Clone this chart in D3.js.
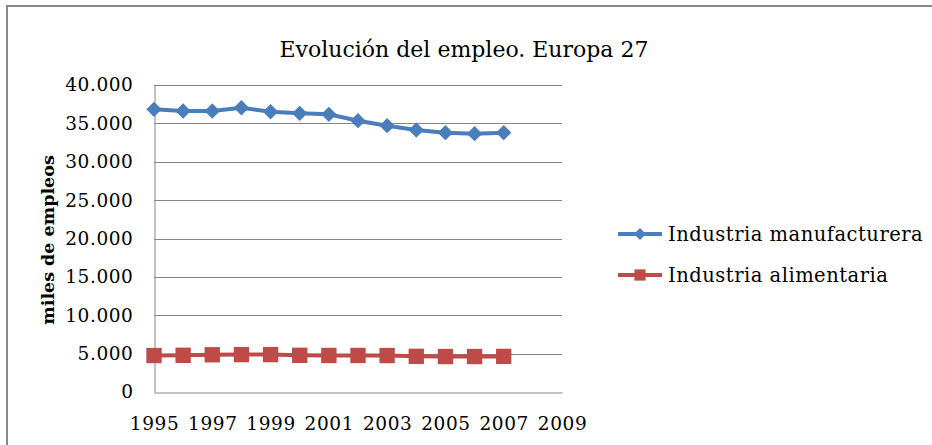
<!DOCTYPE html>
<html>
<head>
<meta charset="utf-8">
<script src="https://cdn.jsdelivr.net/npm/d3@7"></script>
<style>
  body { margin: 0; background: #fff; }
  svg { display: block; font-family: "DejaVu Serif", serif; }
  .grid line { stroke: #868686; stroke-width: 1; }
  .axis path, .axis line { stroke: #868686; }
</style>
</head>
<body>
<svg width="932" height="445"></svg>
<script>
// data (miles de empleos)
var years = [1995, 1996, 1997, 1998, 1999, 2000, 2001, 2002, 2003, 2004, 2005, 2006, 2007];
var manufacturera = [36830, 36610, 36610, 37040, 36520, 36310, 36180, 35350, 34700, 34140, 33790, 33660, 33790];
var alimentaria = [4750, 4780, 4850, 4870, 4870, 4780, 4760, 4760, 4750, 4650, 4620, 4620, 4640];
var yTicks = [0, 5000, 10000, 15000, 20000, 25000, 30000, 35000, 40000];
var xTicks = [1995, 1997, 1999, 2001, 2003, 2005, 2007, 2009];

var series = [
  { name: "Industria manufacturera", values: manufacturera, color: "#4A7EBB", shape: "diamond" },
  { name: "Industria alimentaria", values: alimentaria, color: "#BE4B48", shape: "square" }
];

var svg = d3.select("svg");

// chart frame: only top and left edges are inside the crop
svg.append("path")
  .attr("d", "M7,445V6H932")
  .attr("fill", "none")
  .attr("stroke", "#888")
  .attr("stroke-width", 2);

var x = d3.scaleLinear().domain([1995, 2009]).range([154, 562]);
var y = d3.scaleLinear().domain([0, 40000]).range([392, 85]);

var fmt = function(d) { return d === 0 ? "0" : d3.format(",")(d).replace(/,/g, "."); };

// gridlines
svg.append("g")
  .attr("class", "grid")
  .selectAll("line")
  .data(yTicks.filter(function(d) { return d > 0; }))
  .enter().append("line")
  .attr("x1", x(1995)).attr("x2", x(2009))
  .attr("y1", function(d) { return Math.round(y(d)) + 0.5; })
  .attr("y2", function(d) { return Math.round(y(d)) + 0.5; });

// y axis
var yAxis = svg.append("g")
  .attr("class", "axis")
  .attr("transform", "translate(" + (x(1995) + 0.5) + ",0)")
  .call(d3.axisLeft(y).tickValues(yTicks).tickFormat(fmt).tickSize(0).tickPadding(21));
yAxis.selectAll("text")
  .attr("font-size", 18.5).attr("letter-spacing", "0.6px")
  .attr("fill", "#000").attr("font-family", "DejaVu Serif");

// x axis
var xAxis = svg.append("g")
  .attr("class", "axis")
  .attr("transform", "translate(0," + (y(0) + 0.5) + ")")
  .call(d3.axisBottom(x).tickValues(xTicks).tickFormat(d3.format("d")).tickSize(0).tickPadding(24));
xAxis.selectAll("text")
  .attr("font-size", 18.5).attr("letter-spacing", "0.6px")
  .attr("fill", "#000").attr("font-family", "DejaVu Serif");
xAxis.select(".domain").attr("stroke", "#868686");
yAxis.select(".domain").attr("stroke", "#868686");

// title
svg.append("text")
  .attr("x", 464).attr("y", 57)
  .attr("text-anchor", "middle")
  .attr("font-size", 22)
  .text("Evolución del empleo. Europa 27");

// y axis title
svg.append("text")
  .attr("transform", "translate(54,240) rotate(-90)")
  .attr("text-anchor", "middle")
  .attr("font-size", 17.5)
  .attr("font-weight", "bold")
  .text("miles de empleos");

var line = d3.line()
  .x(function(d, i) { return x(years[i]); })
  .y(function(d) { return y(d); });

var diamond = d3.symbol().type(d3.symbolDiamond2).size(150);
var square = d3.symbol().type(d3.symbolSquare2).size(300);

series.forEach(function(s) {
  svg.append("path")
    .datum(s.values)
    .attr("fill", "none")
    .attr("stroke", s.color)
    .attr("stroke-width", 4)
    .attr("d", line);

  svg.append("g").selectAll("path")
    .data(s.values)
    .enter().append("path")
    .attr("transform", function(d, i) { return "translate(" + x(years[i]) + "," + y(d) + ")"; })
    .attr("fill", s.color)
    .attr("d", s.shape === "diamond" ? diamond : square);
});

// legend
var legend = svg.append("g");
series.forEach(function(s, i) {
  var ly = 234 + i * 41;
  legend.append("line")
    .attr("x1", 618).attr("x2", 662)
    .attr("y1", ly).attr("y2", ly)
    .attr("stroke", s.color).attr("stroke-width", 4);
  legend.append("path")
    .attr("transform", "translate(640," + ly + ")")
    .attr("fill", s.color)
    .attr("d", s.shape === "diamond" ? d3.symbol().type(d3.symbolDiamond2).size(90)() : d3.symbol().type(d3.symbolSquare2).size(160)());
  legend.append("text")
    .attr("x", 668).attr("y", ly)
    .attr("dy", "0.35em")
    .attr("font-size", 19.5)
    .attr("letter-spacing", "0.5px")
    .text(s.name);
});
</script>
</body>
</html>
